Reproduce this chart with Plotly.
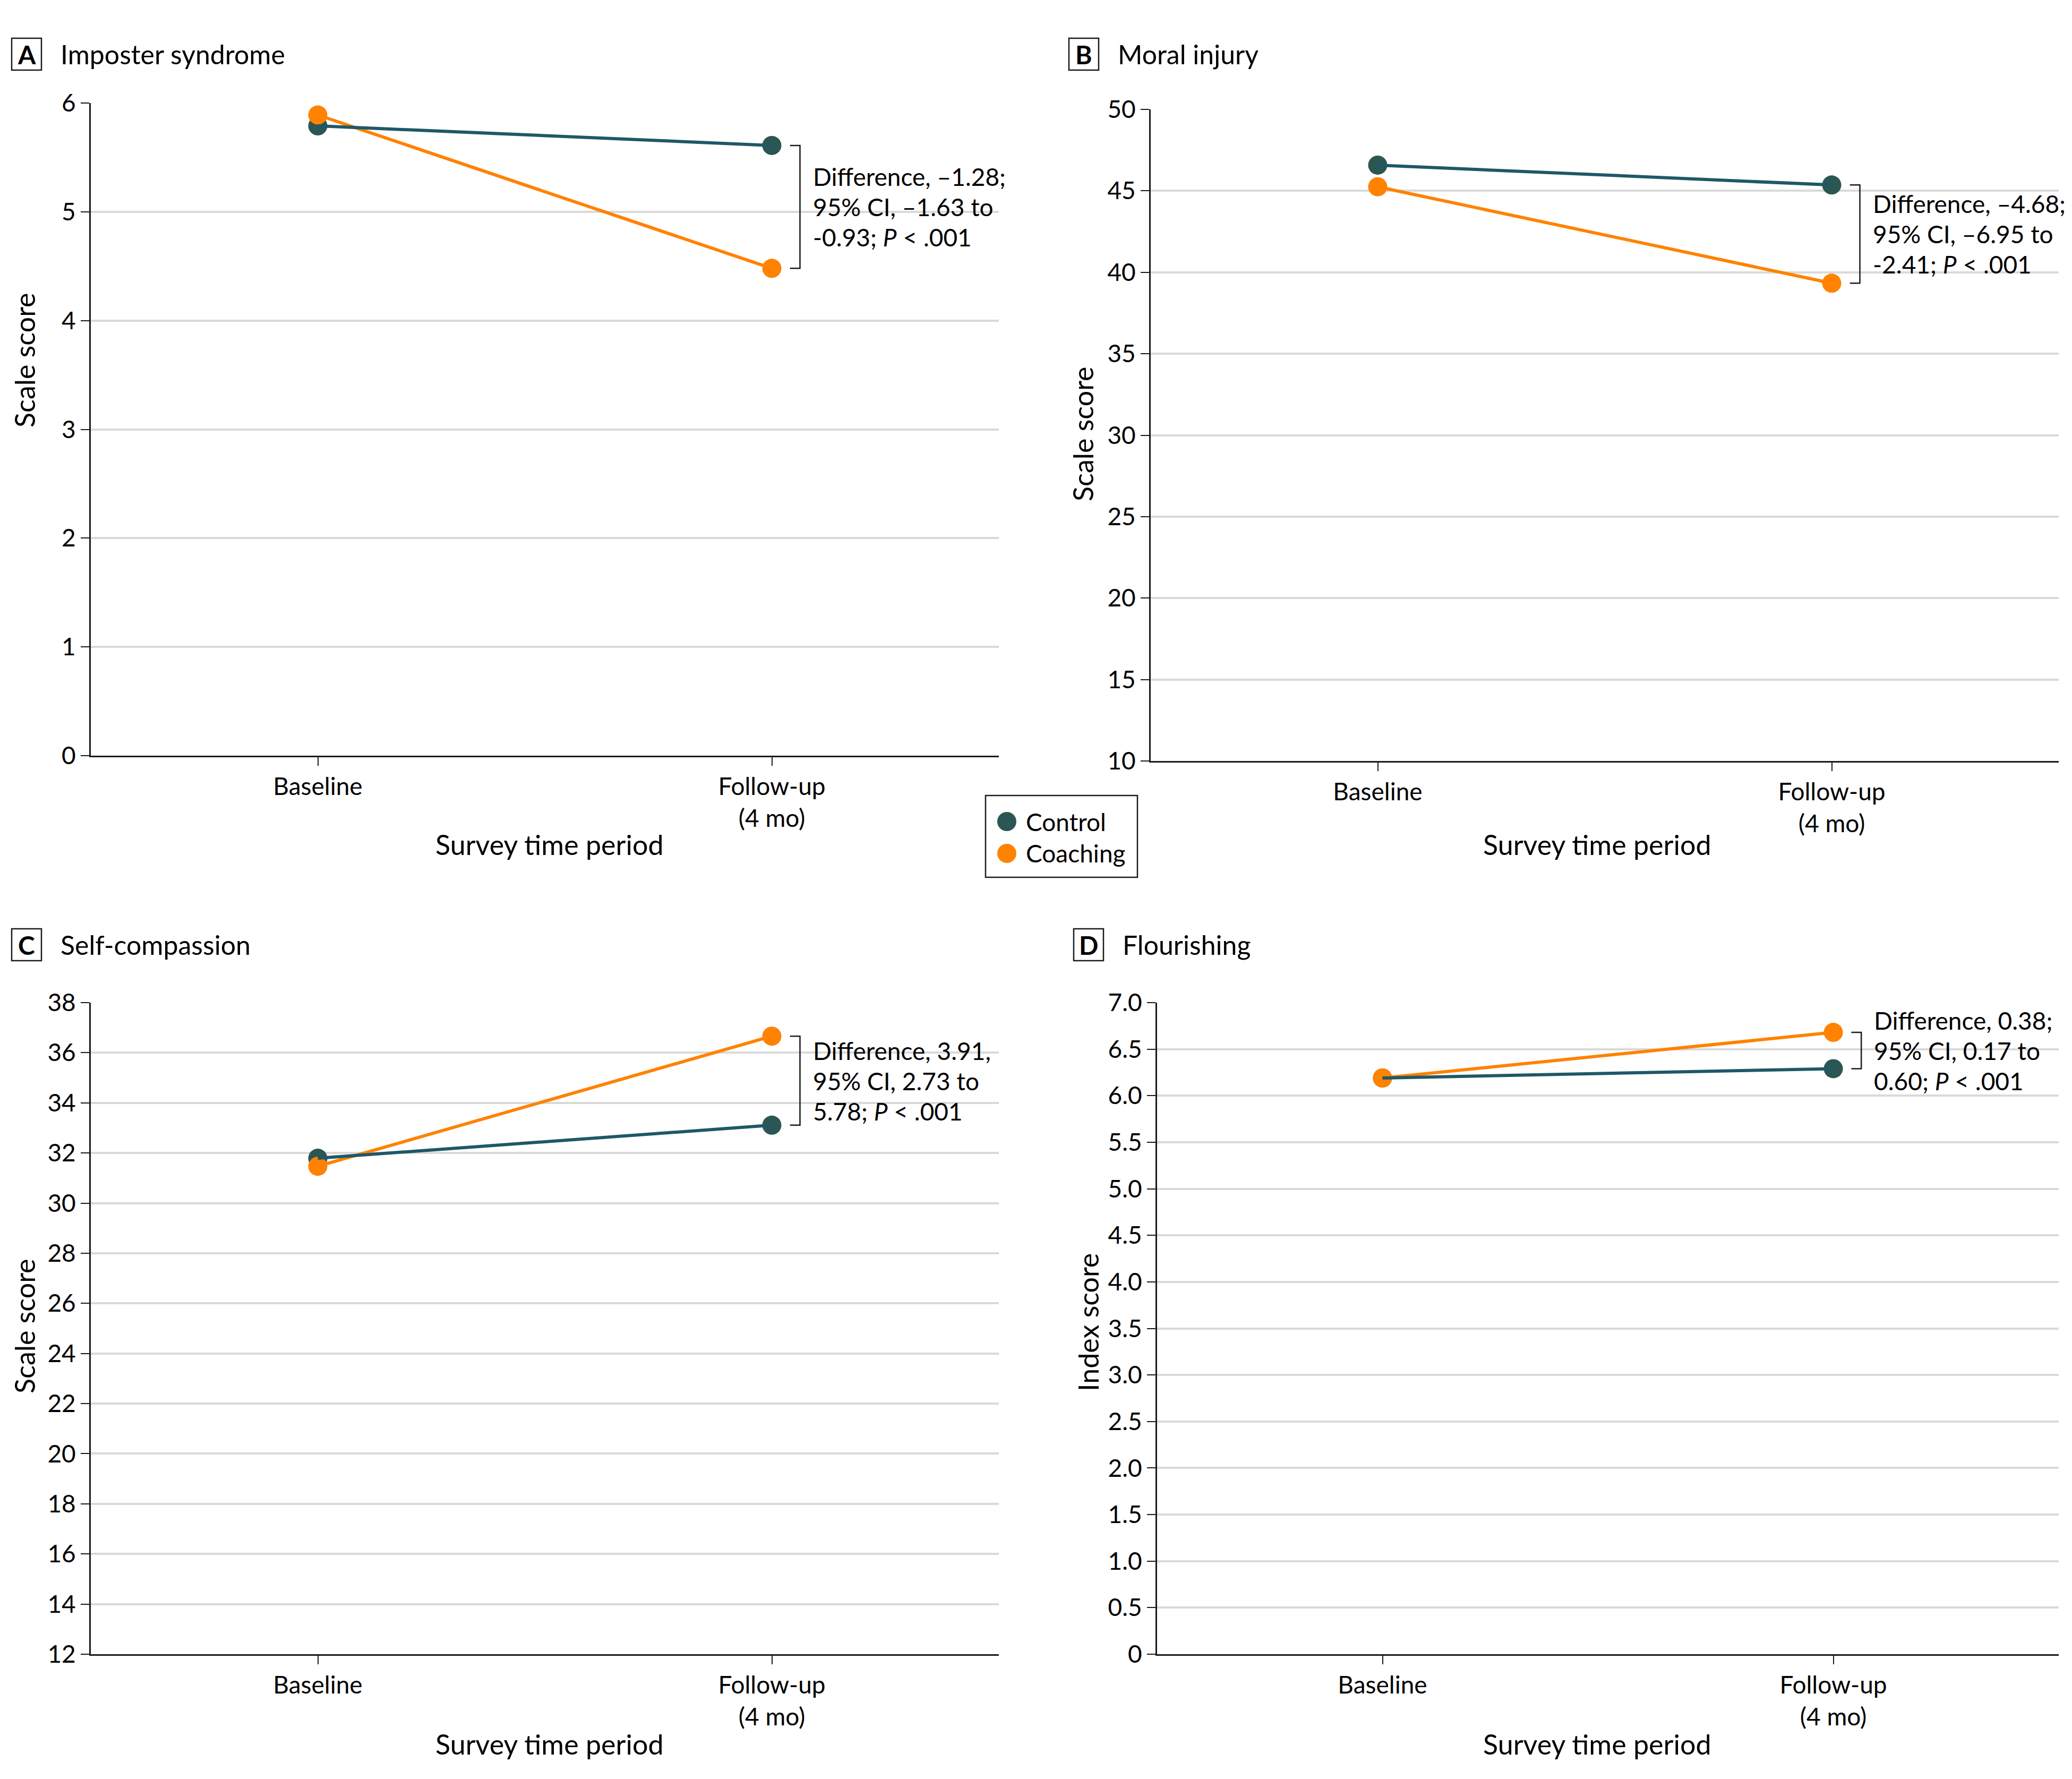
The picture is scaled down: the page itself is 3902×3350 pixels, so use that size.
import plotly.graph_objects as go

W, H = 3902, 3350

# data
periods = [0, 1]
period_labels = ["Baseline", "Follow-up<br>(4 mo)"]
group_names = ["Control", "Coaching"]

imposter_control = [5.79, 5.61]
imposter_coaching = [5.89, 4.48]
moral_control = [46.58, 45.36]
moral_coaching = [45.25, 39.33]
selfcomp_control = [31.79, 33.11]
selfcomp_coaching = [31.47, 36.66]
flourish_control = [6.19, 6.29]
flourish_coaching = [6.19, 6.68]

panel_letters = ["A", "B", "C", "D"]
panel_titles = ["Imposter syndrome", "Moral injury", "Self-compassion", "Flourishing"]
y_titles = ["Scale score", "Scale score", "Scale score", "Index score"]
x_title = "Survey time period"
y_ranges = [[0, 6], [10, 50], [12, 38], [0, 7]]
y_dticks = [1, 5, 2, 0.5]
flourish_tickvals = [0, 0.5, 1, 1.5, 2, 2.5, 3, 3.5, 4, 4.5, 5, 5.5, 6, 6.5, 7]
flourish_ticktext = ["0", "0.5", "1.0", "1.5", "2.0", "2.5", "3.0", "3.5",
                     "4.0", "4.5", "5.0", "5.5", "6.0", "6.5", "7.0"]
diff_text = [
    ["Difference, –1.28;", "95% CI, –1.63 to", "-0.93; <i>P</i> &lt; .001"],
    ["Difference, –4.68;", "95% CI, –6.95 to", "-2.41; <i>P</i> &lt; .001"],
    ["Difference, 3.91,", "95% CI, 2.73 to", "5.78; <i>P</i> &lt; .001"],
    ["Difference, 0.38;", "95% CI, 0.17 to", "0.60; <i>P</i> &lt; .001"],
]

controls = [imposter_control, moral_control, selfcomp_control, flourish_control]
coachings = [imposter_coaching, moral_coaching, selfcomp_coaching, flourish_coaching]

TEAL_M = "#2b5653"
TEAL_L = "#1f5867"
ORANGE = "#ff8200"
INK = "#1a1a1a"
GRID = "#d9d9d9"
FONT = "Lato, Liberation Sans, Arial, sans-serif"

# pixel boxes of each plot area: left, right, top, bottom
boxes = [(169, 1879, 192, 1421), (2165, 3875, 204, 1431),
         (169, 1879, 1886, 3113), (2177, 3875, 1886, 3113)]
heads = [(20, 100), (2011, 100), (20, 1777), (2020, 1777)]
ytitle_pos = [(44, 677), (2037, 816), (44, 2496), (2047, 2488)]
xtitle_pos = [(1033, 1588), (3006, 1588), (1033, 3282), (3006, 3282)]

OFF = 6  # page body margin compensation


def px(x):
    return (x - OFF) / W


def py(y):
    return 1 - (y - OFF) / H


fig = go.Figure()
layout = {}
annotations = []
shapes = []

for i in range(4):
    n = "" if i == 0 else str(i + 1)
    xa, ya = "x" + n, "y" + n
    l, r, t, b = boxes[i]
    ctrl, coach = controls[i], coachings[i]

    fig.add_trace(go.Scatter(x=periods, y=coach, mode="lines", xaxis=xa, yaxis=ya,
                             line=dict(color=ORANGE, width=6), showlegend=False,
                             cliponaxis=False, name=group_names[1]))
    fig.add_trace(go.Scatter(x=periods, y=ctrl, mode="markers", xaxis=xa, yaxis=ya,
                             marker=dict(color=TEAL_M, size=36), showlegend=False,
                             cliponaxis=False, name=group_names[0]))
    fig.add_trace(go.Scatter(x=periods, y=coach, mode="markers", xaxis=xa, yaxis=ya,
                             marker=dict(color=ORANGE, size=36), showlegend=False,
                             cliponaxis=False, name=group_names[1]))
    fig.add_trace(go.Scatter(x=periods, y=ctrl, mode="lines", xaxis=xa, yaxis=ya,
                             line=dict(color=TEAL_L, width=6), showlegend=False,
                             cliponaxis=False, name=group_names[0]))

    layout["xaxis" + n] = dict(
        domain=[px(l), px(r)], anchor=ya, range=[-0.5, 1.5], automargin=False,
        tickmode="array", tickvals=periods, ticktext=period_labels,
        showline=True, linecolor=INK, linewidth=3, ticks="outside", ticklen=16,
        tickwidth=2, tickcolor=INK, showgrid=False, zeroline=False,
        tickfont=dict(family=FONT, size=46, color="black"), fixedrange=True,
    )
    yax = dict(
        domain=[py(b), py(t)], anchor=xa, range=y_ranges[i], automargin=False,
        tick0=y_ranges[i][0], dtick=y_dticks[i],
        showline=True, linecolor=INK, linewidth=3, ticks="outside", ticklen=16,
        tickwidth=2, tickcolor=INK, showgrid=True, gridcolor=GRID, gridwidth=4,
        zeroline=False, tickfont=dict(family=FONT, size=46, color="black"),
        fixedrange=True,
    )
    if i == 3:
        yax.update(tickmode="array", tickvals=flourish_tickvals, ticktext=flourish_ticktext)
    layout["yaxis" + n] = yax

    # bracket between follow-up means
    c1, k1 = ctrl[1], coach[1]
    bx, tx = 1.062, 1.04
    shapes.append(dict(type="path", xref=xa, yref=ya,
                       path=f"M {tx},{c1} L {bx},{c1} L {bx},{k1} L {tx},{k1}",
                       line=dict(color=INK, width=2.5)))
    mid = (c1 + k1) / 2
    for j, line in enumerate(diff_text[i]):
        annotations.append(dict(x=bx, y=mid, xref=xa, yref=ya, text=line,
                                showarrow=False, xanchor="left", yanchor="middle",
                                xshift=22, yshift=57 * (1 - j),
                                font=dict(family=FONT, size=46, color="black")))

    # panel header: boxed letter + title
    hx, hy = heads[i]
    shapes.append(dict(type="rect", xref="paper", yref="paper",
                       x0=px(hx), x1=px(hx + 56), y0=py(hy + 30), y1=py(hy - 30),
                       line=dict(color=INK, width=2.5)))
    annotations.append(dict(x=px(hx + 28), y=py(hy), xref="paper", yref="paper",
                            text="<b>" + panel_letters[i] + "</b>", showarrow=False,
                            xanchor="center", yanchor="middle",
                            font=dict(family=FONT, size=48, color="black")))
    annotations.append(dict(x=px(hx + 90), y=py(hy), xref="paper", yref="paper",
                            text=panel_titles[i], showarrow=False,
                            xanchor="left", yanchor="middle",
                            font=dict(family=FONT, size=50, color="black")))

    # axis titles
    ax_, ay_ = ytitle_pos[i]
    annotations.append(dict(x=px(ax_), y=py(ay_), xref="paper", yref="paper",
                            text=y_titles[i], showarrow=False, textangle=-90,
                            xanchor="center", yanchor="middle",
                            font=dict(family=FONT, size=52, color="black")))
    bx_, by_ = xtitle_pos[i]
    annotations.append(dict(x=px(bx_), y=py(by_), xref="paper", yref="paper",
                            text=x_title, showarrow=False,
                            xanchor="center", yanchor="middle",
                            font=dict(family=FONT, size=52, color="black")))

# legend box
shapes.append(dict(type="rect", xref="paper", yref="paper",
                   x0=px(1854), x1=px(2140), y0=py(1650), y1=py(1496),
                   line=dict(color=INK, width=2.5), fillcolor="white"))
for name, col, yy in zip(group_names, [TEAL_M, ORANGE], [1545, 1605]):
    shapes.append(dict(type="circle", xref="paper", yref="paper",
                       x0=px(1894 - 18), x1=px(1894 + 18), y0=py(yy + 18), y1=py(yy - 18),
                       line=dict(width=0), fillcolor=col))
    annotations.append(dict(x=px(1928), y=py(yy), xref="paper", yref="paper",
                            text=name, showarrow=False, xanchor="left", yanchor="middle",
                            font=dict(family=FONT, size=46, color="black")))

fig.update_layout(
    template="none",
    width=W, height=H,
    margin=dict(l=0, r=0, t=0, b=0, pad=0),
    paper_bgcolor="white", plot_bgcolor="white",
    showlegend=False,
    annotations=annotations, shapes=shapes,
    font=dict(family=FONT, color="black"),
    **layout,
)

fig.write_html("out.html")
